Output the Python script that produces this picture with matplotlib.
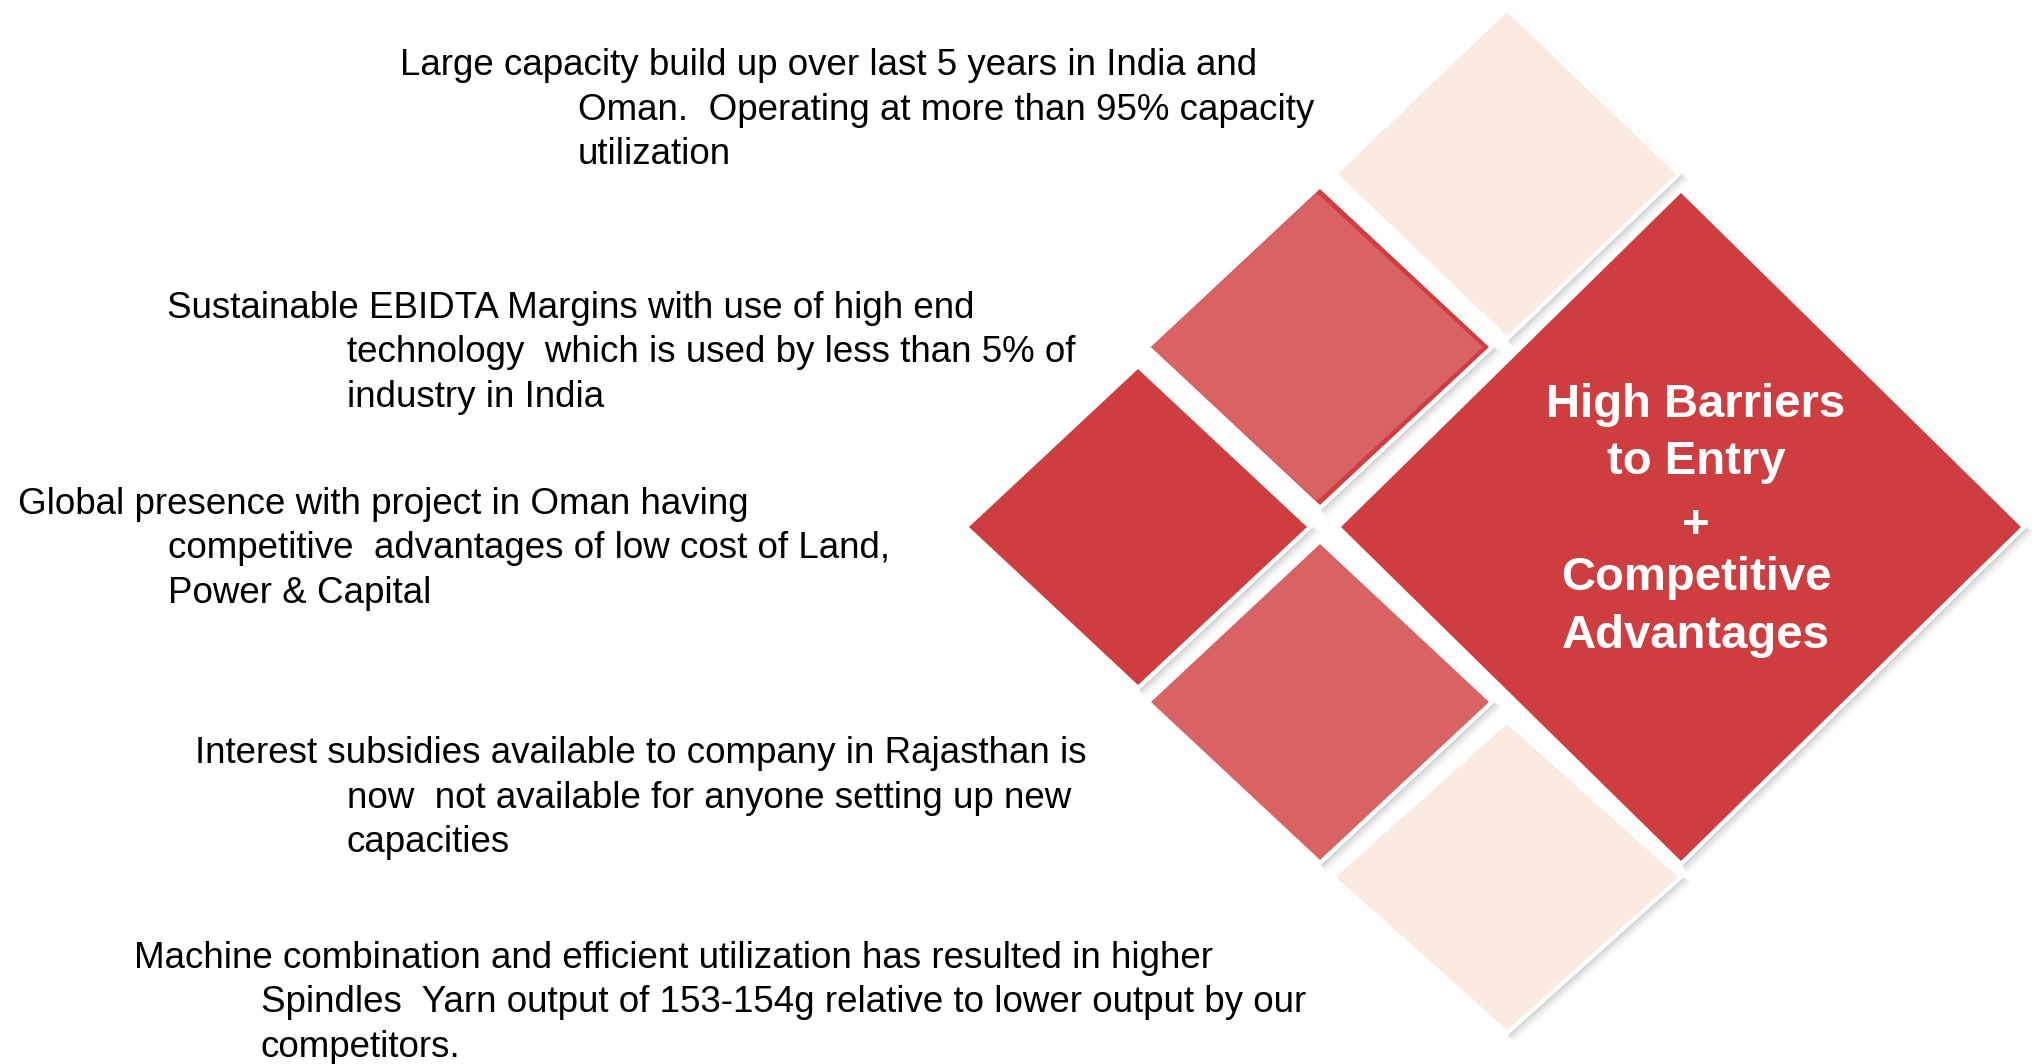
import matplotlib.pyplot as plt
from matplotlib.patches import Polygon

# diamond tiles: centre x, centre y, half width, half height (pixels), colour
tile_cx = [1507, 1320, 1138, 1320, 1507, 1681]
tile_cy = [174, 347, 527, 702, 877, 527]
tile_hx = [169, 169, 169, 169, 171, 340]
tile_hy = [162, 158, 158, 158, 153, 334]
tile_colors = ['#FAEAE0', '#D96364', '#CE3D3F', '#D96364', '#FAEAE0', '#CE3D3F']

# text blocks: first line and the indented continuation lines
block_lines = [
    ['Large capacity build up over last 5 years in India and',
     'Oman.  Operating at more than 95% capacity',
     'utilization'],
    ['Sustainable EBIDTA Margins with use of high end',
     'technology  which is used by less than 5% of',
     'industry in India'],
    ['Global presence with project in Oman having',
     'competitive  advantages of low cost of Land,',
     'Power & Capital'],
    ['Interest subsidies available to company in Rajasthan is',
     'now  not available for anyone setting up new',
     'capacities'],
    ['Machine combination and efficient utilization has resulted in higher',
     'Spindles  Yarn output of 153-154g relative to lower output by our',
     'competitors.'],
]
block_x_first = [400, 167, 18, 195, 134]
block_x_rest = [578, 347, 168, 347, 261]
block_y = [75, 318, 514, 763, 968]
line_gap = 44.5

center_lines = ['High Barriers', 'to Entry', '+', 'Competitive', 'Advantages']
center_y = [417, 474, 538, 590, 648]
center_x = 1696


def diamond(cx, cy, hx, hy):
    return [(cx, cy - hy), (cx + hx, cy), (cx, cy + hy), (cx - hx, cy)]


fig = plt.figure(figsize=(20.44, 10.64), dpi=100)
ax = fig.add_axes([0, 0, 1, 1])
ax.set_xlim(0, 2044)
ax.set_ylim(1064, 0)
ax.axis('off')

for i in range(len(tile_cx)):
    cx, cy, hx, hy = tile_cx[i], tile_cy[i], tile_hx[i], tile_hy[i]
    # soft grey shadow
    for k, a in [(11, 0.06), (9, 0.08), (7, 0.1), (5, 0.14)]:
        ax.add_patch(Polygon(diamond(cx + k * 0.6, cy + k * 0.5, hx + k * 0.6, hy + k * 0.6),
                             closed=True, facecolor='#808080', alpha=a, edgecolor='none', zorder=1 + i * 4))
    # white frame
    ax.add_patch(Polygon(diamond(cx, cy, hx + 6, hy + 6), closed=True,
                         facecolor='white', edgecolor='none', zorder=2 + i * 4))
    if i == 1:
        # pink tile sitting on a red one, red shows on the right edges
        ax.add_patch(Polygon(diamond(cx, cy, hx, hy), closed=True,
                             facecolor='#CE3D3F', edgecolor='none', zorder=3 + i * 4))
        ax.add_patch(Polygon(diamond(cx - 3, cy, hx - 3, hy - 4), closed=True,
                             facecolor=tile_colors[i], edgecolor='none', zorder=4 + i * 4))
    else:
        ax.add_patch(Polygon(diamond(cx, cy, hx, hy), closed=True,
                             facecolor=tile_colors[i], edgecolor='none', zorder=3 + i * 4))

for lines, x0, x1, y0 in zip(block_lines, block_x_first, block_x_rest, block_y):
    for j, line in enumerate(lines):
        ax.text(x0 if j == 0 else x1, y0 + j * line_gap, line,
                family='Liberation Sans', fontsize=26.5, color='black',
                ha='left', va='baseline', zorder=50)

for line, y in zip(center_lines, center_y):
    ax.text(center_x, y, line, family='Liberation Sans', fontsize=34,
            fontweight='bold', color='white', ha='center', va='baseline', zorder=50)

fig.savefig('out.png', dpi=100, facecolor='white')
